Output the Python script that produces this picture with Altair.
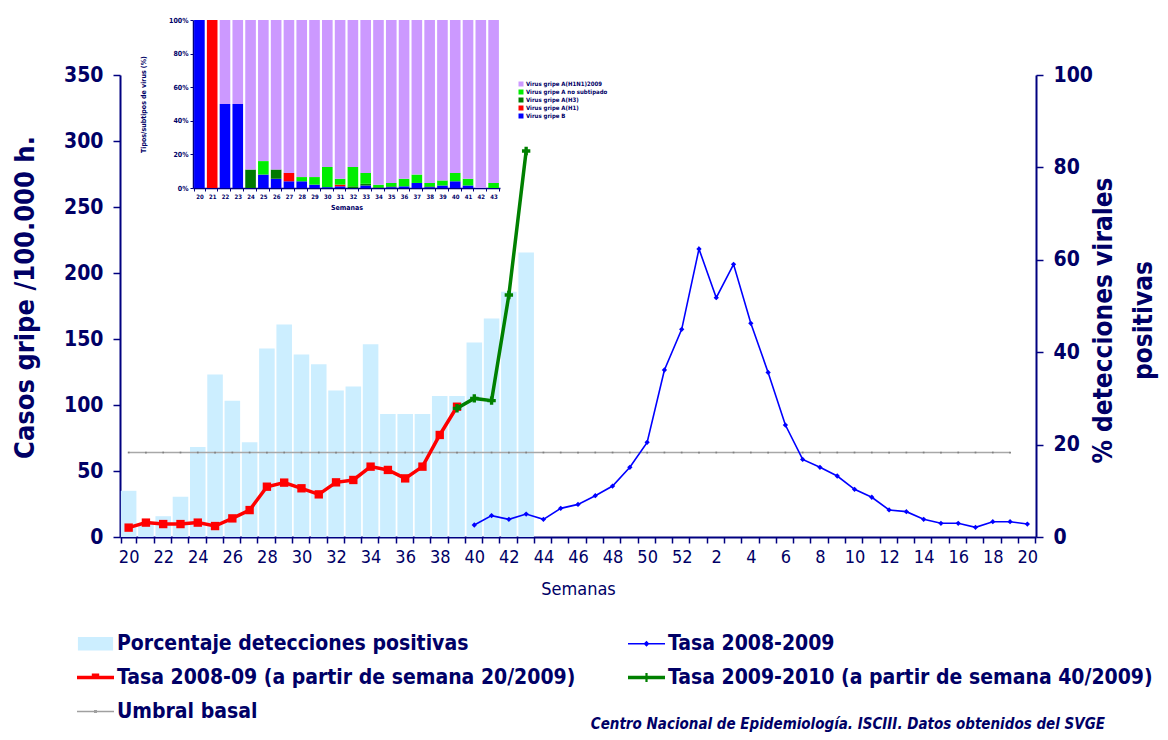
import altair as alt
import pandas as pd

FONT = "DejaVu Sans Condensed"
NAVY_TXT = "#000066"
NAVY = "#000080"

# ---------------- data ----------------
weeks = ["20", "21", "22", "23", "24", "25", "26", "27", "28", "29", "30", "31", "32",
         "33", "34", "35", "36", "37", "38", "39", "40", "41", "42", "43", "44", "45",
         "46", "47", "48", "49", "50", "51", "52", "1", "2", "3", "4", "5", "6", "7",
         "8", "9", "10", "11", "12", "13", "14", "15", "16", "17", "18", "19", "20"]

# % detecciones positivas, semanas 20..43 (2009)
pct_positivas = [10.0, 3.0, 4.5, 8.7, 19.5, 35.2, 29.5, 20.5, 40.8, 46.0, 39.5, 37.4,
                 31.7, 32.6, 41.7, 26.6, 26.6, 26.6, 30.5, 30.5, 42.1, 47.3, 53.1, 61.6]
pct_start = 0

# Tasa 2008-09 (a partir de semana 20/2009), semanas 20..39
tasa_0809_desde20 = [7.1, 10.9, 9.8, 9.8, 10.9, 8.3, 14.1, 20.4, 38.1, 41.2, 36.9, 32.3,
                     41.4, 43.2, 53.3, 50.8, 44.4, 53.3, 77.3, 98.7]
red_start = 0

# Tasa 2009-2010, semanas 39..43
tasa_0910 = [97.5, 105.0, 103.3, 183.3, 292.4]
green_start = 19

# Tasa 2008-2009, semanas 40..52, 1..20
tasa_0809 = [9.1, 16.2, 13.4, 17.4, 13.4, 21.7, 24.7, 31.3, 38.6, 52.8, 71.7, 126.5,
             157.3, 218.2, 181.3, 206.6, 161.9, 124.7, 84.8, 58.8, 52.8, 46.2, 36.1,
             30.1, 20.5, 19.2, 13.4, 10.4, 10.4, 7.3, 11.6, 11.6, 9.8]
blue_start = 20

umbral_basal = 64
umbral_n = 52

left_ticks = [0, 50, 100, 150, 200, 250, 300, 350]
right_ticks = [0, 20, 40, 60, 80, 100]

# legend entries (listed column by column: left column, then right column)
legend_names = ["Porcentaje detecciones positivas",
                "Tasa 2008-09 (a partir de semana 20/2009)",
                "Umbral basal",
                "Tasa 2008-2009",
                "Tasa 2009-2010 (a partir de semana 40/2009)"]
legend_colors = ["#cceeff", "#ff0000", "#a0a0a0", "#0000ff", "#008000"]
legend_paths = [
    "M-0.95,-0.36H0.95V0.36H-0.95Z",
    "M-1,-0.09H1V0.09H-1Z M-0.2,-0.22H0.2V0.1H-0.2Z",
    "M-1,-0.035H1V0.035H-1Z M-0.08,-0.08H0.08V0.08H-0.08Z",
    "M-1,-0.045H1V0.045H-1Z M0,-0.16L0.16,0L0,0.16L-0.16,0Z",
    "M-1,-0.09H1V0.09H-1Z M-0.06,-0.24H0.06V0.24H-0.06Z M-0.22,-0.07H0.22V0.07H-0.22Z",
]

# inset: tipos/subtipos de virus (%), semanas 20..43
inset_weeks = ["20", "21", "22", "23", "24", "25", "26", "27", "28", "29", "30", "31",
               "32", "33", "34", "35", "36", "37", "38", "39", "40", "41", "42", "43"]
virus_names = ["Virus gripe A(H1N1)2009", "Virus gripe A no subtipado",
               "Virus gripe A(H3)", "Virus gripe A(H1)", "Virus gripe B"]
virus_colors = ["#cc99ff", "#00ee00", "#007a00", "#ff0000", "#0000ff"]
v_b = [100, 0, 50, 50, 0, 8, 5.5, 4, 4, 2, 0.5, 1, 0, 1.5, 0, 0.5, 1, 3, 0.5, 1.5, 4, 1.5, 0, 0]
v_h1 = [0, 100, 0, 0, 0, 0, 0, 5, 0, 0, 0, 1, 0, 0, 0, 0, 0, 0, 0, 0, 0, 0, 0, 0]
v_h3 = [0, 0, 0, 0, 11, 0, 5.5, 0, 0, 0, 0, 0, 1, 1, 0.5, 0.5, 0, 0, 0.5, 0, 0, 0, 0, 0]
v_ns = [0, 0, 0, 0, 0, 8, 0, 0, 2.5, 4.5, 12, 3.5, 11.5, 6.5, 1.5, 2, 4.5, 5, 2, 3, 5, 4, 0, 3]
v_pdm = [0, 0, 50, 50, 89, 84, 89, 91, 93.5, 93.5, 87.5, 94.5, 87.5, 91, 98, 97, 94.5, 92,
         97, 95.5, 91, 94.5, 100, 97]

# ---------------- tables ----------------
bars_df = pd.DataFrame({"i": [pct_start + k for k in range(len(pct_positivas))],
                        "v": pct_positivas})
red_df = pd.DataFrame({"i": [red_start + k for k in range(len(tasa_0809_desde20))],
                       "v": tasa_0809_desde20})
green_df = pd.DataFrame({"i": [green_start + k for k in range(len(tasa_0910))],
                         "v": tasa_0910})
blue_df = pd.DataFrame({"i": [blue_start + k for k in range(len(tasa_0809))],
                        "v": tasa_0809})
umbral_df = pd.DataFrame({"i": list(range(umbral_n))})
legend_df = pd.DataFrame({"serie": legend_names})

rows = []
series_vals = [v_b, v_h1, v_h3, v_ns, v_pdm]
series_names = virus_names[::-1]
for o, (name, vals) in enumerate(zip(series_names, series_vals)):
    for j, val in enumerate(vals):
        rows.append({"j": j, "tipo": name, "v": val, "ord": o})
inset_df = pd.DataFrame(rows)

# ---------------- encodings ----------------
label_expr = "[" + ",".join("'%s'" % (w if k % 2 == 0 else "") for k, w in enumerate(weeks)) + "][datum.value]"

x_enc = alt.X("i:O",
              scale=alt.Scale(domain=list(range(len(weeks))), paddingInner=0.1, paddingOuter=0.05),
              axis=alt.Axis(orient="bottom", title="Semanas", labelExpr=label_expr,
                            labelAngle=0, labelOverlap=False, tickBand="extent", grid=False,
                            labelFont=FONT, labelFontSize=18, labelColor=NAVY_TXT,
                            labelPadding=5, titleFont=FONT, titleFontSize=18,
                            titleFontWeight="normal", titleColor=NAVY_TXT, titlePadding=14,
                            domainColor=NAVY, domainWidth=2, tickColor=NAVY,
                            tickWidth=1.5, tickSize=6))

left_scale = alt.Scale(domain=[0, 350], nice=False)
left_axis = alt.Axis(orient="left", values=left_ticks, title="Casos gripe /100.000 h.",
                     labelFont=FONT, labelFontSize=21, labelFontWeight="bold",
                     labelColor=NAVY_TXT, labelPadding=10,
                     titleFont=FONT, titleFontSize=27, titleFontWeight="bold",
                     titleColor=NAVY_TXT, titleAngle=270, titleX=-95, titleY=222,
                     titleBaseline="middle", titleAlign="center",
                     domainColor=NAVY, domainWidth=2, tickColor=NAVY,
                     tickWidth=1.5, tickSize=7, grid=False)
y_left = alt.Y("v:Q", scale=left_scale, axis=left_axis)

y_right = alt.Y("v:Q",
                scale=alt.Scale(domain=[0, 100], nice=False),
                axis=alt.Axis(orient="right", values=right_ticks,
                              title=["% detecciones virales", "positivas"],
                              labelFont=FONT, labelFontSize=21, labelFontWeight="bold",
                              labelColor=NAVY_TXT, labelPadding=10,
                              titleFont=FONT, titleFontSize=26, titleFontWeight="bold",
                              titleColor=NAVY_TXT, titleAngle=270, titleX=67, titleY=245,
                              titleBaseline="middle", titleAlign="center", titleLineHeight=40,
                              domainColor=NAVY, domainWidth=2, tickColor=NAVY,
                              tickWidth=1.5, tickSize=7, grid=False))

bars = alt.Chart(bars_df).mark_bar(color="#cceeff").encode(x=x_enc, y=y_right)

umbral_line = alt.Chart(umbral_df).mark_line(color="#a8a8a8", strokeWidth=1.5).encode(
    x=x_enc, y=alt.datum(umbral_basal, scale=left_scale, axis=left_axis))
umbral_pts = alt.Chart(umbral_df).mark_point(shape="square", filled=True, size=3, opacity=1,
                                             color="#808080").encode(
    x=x_enc, y=alt.datum(umbral_basal, scale=left_scale, axis=left_axis))

blue_line = alt.Chart(blue_df).mark_line(color="#0000ff", strokeWidth=1.6).encode(x=x_enc, y=y_left)
blue_pts = alt.Chart(blue_df).mark_point(shape="diamond", filled=True, size=28, opacity=1,
                                         color="#0000ff").encode(x=x_enc, y=y_left)
red_line = alt.Chart(red_df).mark_line(color="#ff0000", strokeWidth=3.5).encode(x=x_enc, y=y_left)
red_pts = alt.Chart(red_df).mark_point(shape="square", filled=True, size=70, opacity=1,
                                       color="#ff0000").encode(x=x_enc, y=y_left)
green_line = alt.Chart(green_df).mark_line(color="#008000", strokeWidth=3.5).encode(x=x_enc, y=y_left)
green_pts = alt.Chart(green_df).mark_point(shape="cross", filled=True, size=70, opacity=1,
                                           color="#008000").encode(x=x_enc, y=y_left)

leg = alt.Legend(title=None, orient="none", legendX=-43, legendY=550, columns=2,
                 columnPadding=52, rowPadding=5, padding=0, labelOffset=3,
                 labelFont=FONT, labelFontSize=21, labelFontWeight="bold",
                 labelColor=NAVY_TXT, labelLimit=0, symbolSize=1369,
                 symbolStrokeWidth=0, symbolOpacity=1)
legend_pts = alt.Chart(legend_df).mark_point(filled=True, opacity=0).encode(
    color=alt.Color("serie:N", scale=alt.Scale(domain=legend_names, range=legend_colors),
                    legend=leg),
    shape=alt.Shape("serie:N", scale=alt.Scale(domain=legend_names, range=legend_paths),
                    legend=leg))

lines = alt.layer(umbral_line, umbral_pts, blue_line, blue_pts, red_line, red_pts,
                  green_line, green_pts, legend_pts)
main = alt.layer(bars, lines).resolve_scale(y="independent")

inset_label_expr = "[" + ",".join("'%s'" % w for w in inset_weeks) + "][datum.value]"
inset = alt.Chart(inset_df).mark_bar().encode(
    x=alt.X("j:O", scale=alt.Scale(domain=list(range(len(inset_weeks))), range=[73, 380],
                                   paddingInner=0.17, paddingOuter=0.085),
            axis=alt.Axis(orient="bottom", offset=-349, title="Semanas", grid=False,
                          labelExpr=inset_label_expr, labelAngle=0, labelOverlap=False,
                          tickBand="extent", labelFont=FONT, labelFontSize=6,
                          labelFontWeight="bold", labelColor=NAVY_TXT, labelPadding=2,
                          titleFont=FONT, titleFontSize=7, titleFontWeight="bold",
                          titleColor=NAVY_TXT, titlePadding=4,
                          domainColor=NAVY, domainWidth=1.5, tickColor=NAVY, tickSize=3)),
    y=alt.Y("v:Q", stack="zero",
            scale=alt.Scale(domain=[0, 100], nice=False, range=[113, -55]),
            axis=alt.Axis(orient="left", offset=-73, values=right_ticks,
                          labelExpr="datum.value + '%'", title="Tipos/subtipos de virus (%)",
                          labelFont=FONT, labelFontSize=7, labelFontWeight="bold",
                          labelColor=NAVY_TXT, labelPadding=2,
                          titleFont=FONT, titleFontSize=7, titleFontWeight="bold",
                          titleColor=NAVY_TXT, titleAngle=270, titleX=-50, titleY=29,
                          titleBaseline="middle", titleAlign="center",
                          domainColor=NAVY, domainWidth=1.5, tickColor=NAVY, tickSize=3,
                          grid=False)),
    color=alt.Color("tipo:N", scale=alt.Scale(domain=virus_names, range=virus_colors),
                    legend=alt.Legend(title=None, orient="none", legendX=398, legendY=6,
                                      padding=0, rowPadding=2, labelOffset=2,
                                      symbolType="square", symbolSize=25,
                                      symbolStrokeWidth=0, labelFont=FONT, labelFontSize=6,
                                      labelFontWeight="bold", labelColor=NAVY_TXT)),
    order=alt.Order("ord:Q"),
)

chart = alt.layer(main, inset).resolve_scale(
    x="independent", y="independent", color="independent", shape="independent"
).properties(
    width=916, height=462,
    padding={"left": 112, "top": 67, "right": 124, "bottom": 195},
    autosize=alt.AutoSizeParams(type="none"),
    view=alt.ViewBackground(stroke="white", strokeWidth=0, strokeOpacity=0),
    title=alt.Title("Centro Nacional de Epidemiología. ISCIII. Datos obtenidos del SVGE",
                    orient="bottom", anchor="end", frame="group", font=FONT, fontSize=15,
                    fontStyle="italic", fontWeight="bold", color=NAVY_TXT, offset=-5, dx=69),
).configure_view(strokeWidth=0, stroke=None).configure_axis(grid=False).configure(background="white")

chart.save("out.html", embed_options={"renderer": "svg", "actions": False})
